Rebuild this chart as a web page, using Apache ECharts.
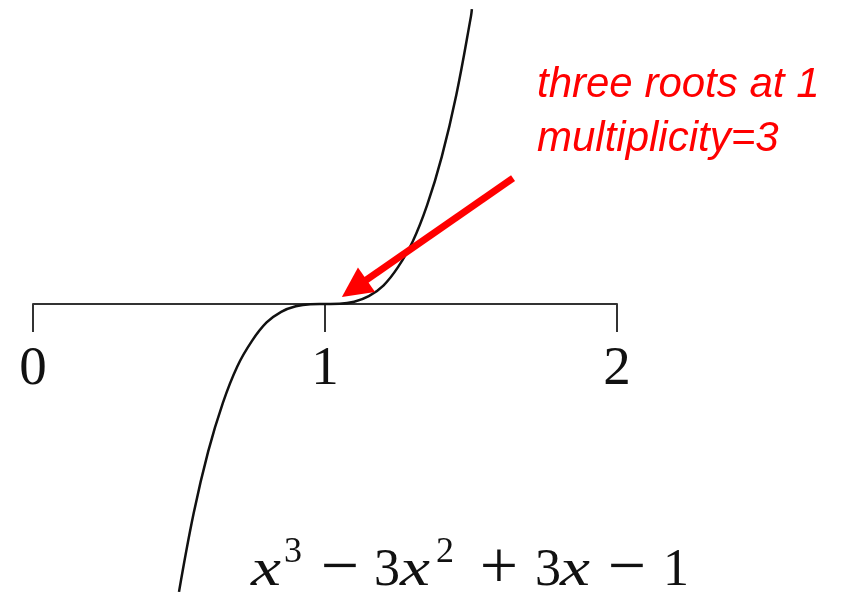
<!DOCTYPE html>
<html>
<head>
<meta charset="utf-8">
<style>
  html, body { margin: 0; padding: 0; background: #fff; }
  #chart { width: 863px; height: 594px; }
</style>
<script src="https://cdn.jsdelivr.net/npm/echarts@6/dist/echarts.min.js"></script>
</head>
<body>
<div id="chart"></div>
<script>
// x positions along the axis and the polynomial's values there
const xs = [0.50, 0.55, 0.60, 0.65, 0.70, 0.75, 0.80, 0.85, 0.90, 0.95, 1.00,
            1.05, 1.10, 1.15, 1.20, 1.25, 1.30, 1.35, 1.40, 1.45, 1.50, 1.503];
const ys = [-0.125, -0.091, -0.064, -0.043, -0.027, -0.016, -0.008, -0.0034, -0.001, -0.0001, 0,
            0.0001, 0.001, 0.0034, 0.008, 0.016, 0.027, 0.043, 0.064, 0.091, 0.125, 0.128];

// axis tick values
const tickValues = [0, 1, 2];

// annotation text and the arrow pointing at the triple root (tail, head)
const noteLines = ['three roots at 1', 'multiplicity=3'];
const arrowTail = [1.644, 0.0547];
const arrowHead = [1.100, 0.0068];

// the polynomial written out: glyphs and their role
// (v = variable, s = exponent, n = numeral, o = operator)
const formulaGlyphs = ['x', '3', '−', '3', 'x', '2', '+', '3', 'x', '−', '1'];
const formulaKinds  = ['v', 's', 'o', 'n', 'v', 's', 'o', 'n', 'v', 'o', 'n'];

const curve = xs.map((x, i) => [x, ys[i]]);

// horizontal centre of each formula glyph, in pixels
const formulaCentres = [266, 293, 340, 387, 415, 445, 499, 548, 575, 627, 676];
const glyphStyle = {
  v: { fontFamily: 'Liberation Serif', fontStyle: 'italic', fontSize: 52, y: 597, scaleX: 1.3 },
  n: { fontFamily: 'Liberation Serif', fontStyle: 'normal', fontSize: 52, y: 597, scaleX: 1 },
  o: { fontFamily: 'Liberation Serif', fontStyle: 'normal', fontSize: 68, y: 604, scaleX: 1 },
  s: { fontFamily: 'Liberation Serif', fontStyle: 'normal', fontSize: 36, y: 571, scaleX: 1 }
};
const formulaElements = formulaGlyphs.map((g, i) => {
  const st = glyphStyle[formulaKinds[i]];
  return {
    type: 'text',
    x: formulaCentres[i],
    y: st.y,
    scaleX: st.scaleX,
    silent: true,
    style: {
      text: g,
      align: 'center',
      verticalAlign: 'bottom',
      fontFamily: st.fontFamily,
      fontStyle: st.fontStyle,
      fontWeight: 'normal',
      fontSize: st.fontSize,
      fill: '#111'
    }
  };
});

const chart = echarts.init(document.getElementById('chart'), null, { renderer: 'canvas' });

chart.setOption({
  animation: false,
  backgroundColor: '#ffffff',
  // the axis sits at the bottom edge of the grid; the lower half of the curve is drawn unclipped below it
  grid: { left: 33, right: 246, top: 0, bottom: 290, containLabel: false, outerBoundsMode: 'none' },
  xAxis: {
    type: 'value',
    min: tickValues[0],
    max: tickValues[tickValues.length - 1],
    interval: 1,
    axisLine: { onZero: false, lineStyle: { color: '#333', width: 2 } },
    axisTick: { show: true, length: 28, lineStyle: { color: '#333', width: 2 } },
    axisLabel: {
      margin: 38,
      fontSize: 55,
      fontFamily: 'Liberation Serif',
      color: '#111',
      formatter: v => String(v)
    },
    splitLine: { show: false }
  },
  yAxis: {
    type: 'value',
    min: 0,
    max: 0.132,
    show: false,
    splitLine: { show: false }
  },
  series: [{
    type: 'line',
    data: curve,
    smooth: 0.4,
    showSymbol: false,
    clip: false,
    lineStyle: { color: '#111', width: 2.5 },
    z: 2,
    markLine: {
      silent: true,
      animation: false,
      symbol: ['none', 'triangle'],
      symbolSize: 30,
      label: { show: false },
      lineStyle: { color: '#ff0000', width: 7, type: 'solid' },
      emphasis: { disabled: true },
      data: [[{ coord: arrowTail }, { coord: arrowHead }]]
    }
  }],
  graphic: [
    {
      type: 'text',
      left: 537,
      top: 58,
      style: {
        text: noteLines.join('\n'),
        fontFamily: 'Liberation Sans',
        fontStyle: 'italic',
        fontSize: 42,
        lineHeight: 54,
        fill: '#ff0000'
      }
    }
  ].concat(formulaElements)
});
</script>
</body>
</html>
